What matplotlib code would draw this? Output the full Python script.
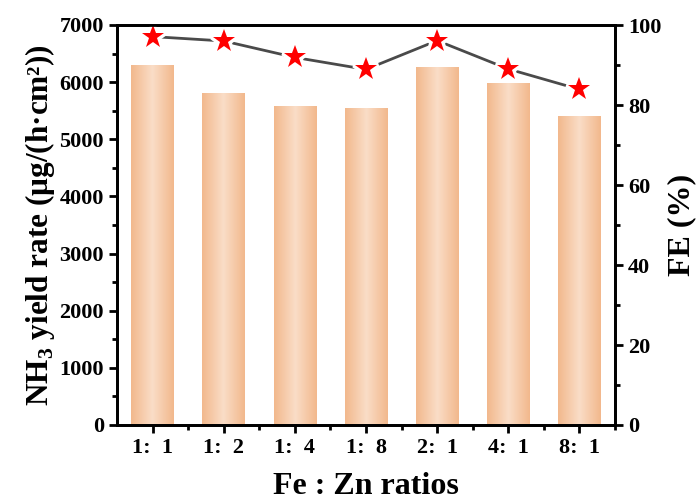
import numpy as np
import matplotlib
matplotlib.use("Agg")
import matplotlib.pyplot as plt
from matplotlib.colors import LinearSegmentedColormap
from matplotlib.ticker import MultipleLocator

ratios = ["1:  1", "1:  2", "1:  4", "1:  8", "2:  1", "4:  1", "8:  1"]
yield_rate = [6300, 5805, 5580, 5545, 6260, 5990, 5405]
fe = [97.1, 96.0, 91.9, 88.9, 96.1, 89.0, 83.9]

plt.rcParams["font.family"] = ["Liberation Serif", "DejaVu Serif"]
plt.rcParams["font.weight"] = "bold"
plt.rcParams["axes.linewidth"] = 2.0
plt.rcParams["mathtext.fontset"] = "custom"
plt.rcParams["mathtext.rm"] = "Liberation Serif:bold"
plt.rcParams["mathtext.bf"] = "Liberation Serif:bold"

fig = plt.figure(figsize=(6.97, 5.01), dpi=100)
ax = fig.add_axes([117 / 697, 76 / 501, 498 / 697, 400 / 501])
x = np.arange(len(ratios))
bars = ax.bar(x, yield_rate, width=0.6, color="#F5C6A0", zorder=1)

# horizontal gradient on each bar (darker edges, light centre)
cmap = LinearSegmentedColormap.from_list("bar", ["#F2B88C", "#FADDC7", "#F2B88C"])
grad = np.linspace(0, 1, 256).reshape(1, -1)
for b in bars:
    im = ax.imshow(grad, cmap=cmap, aspect="auto", zorder=2,
                   extent=[b.get_x(), b.get_x() + b.get_width(), 0, b.get_height()])
    im.set_clip_path(b)

ax.set_xlim(-0.5, len(ratios) - 0.5)
ax.set_ylim(0, 7000)
ax.set_xticks(x)
ax.set_xticklabels(ratios)
ax.set_xticks(x + 0.5, minor=True)
ax.yaxis.set_major_locator(MultipleLocator(1000))
ax.yaxis.set_minor_locator(MultipleLocator(500))
ax.tick_params(axis="both", which="major", direction="out", length=6, width=2, labelsize=16)
ax.tick_params(axis="both", which="minor", direction="out", length=3.5, width=2)
ax.set_xlabel("Fe : Zn ratios", fontsize=23, fontweight="bold", labelpad=10)
ax.set_ylabel(r"NH$_{\mathbf{3}}$ yield rate (μg/(h·cm²))", fontsize=22.5, fontweight="bold", labelpad=2)

ax2 = ax.twinx()
ax2.set_ylim(0, 100)
ax2.yaxis.set_major_locator(MultipleLocator(20))
ax2.yaxis.set_minor_locator(MultipleLocator(10))
ax2.tick_params(axis="y", which="major", direction="out", length=6, width=2, labelsize=16)
ax2.tick_params(axis="y", which="minor", direction="out", length=3.5, width=2)
# line with gaps round the stars, spines kept on top
ax2.plot(x, fe, color="#4a4a4a", lw=2, zorder=2.1)
ax2.plot(x, fe, ls="none", marker="*", ms=18, mfc="white", mec="white", mew=4, zorder=2.2)
ax2.plot(x, fe, ls="none", marker="*", ms=17, mfc="#FF0000", mec="#FF0000", mew=0, zorder=2.3)
ax2.set_ylabel("FE (%)", fontsize=23, fontweight="bold", labelpad=4)

for a in (ax, ax2):
    for lab in a.get_xticklabels() + a.get_yticklabels():
        lab.set_fontweight("bold")

fig.savefig("out.png", dpi=100)
